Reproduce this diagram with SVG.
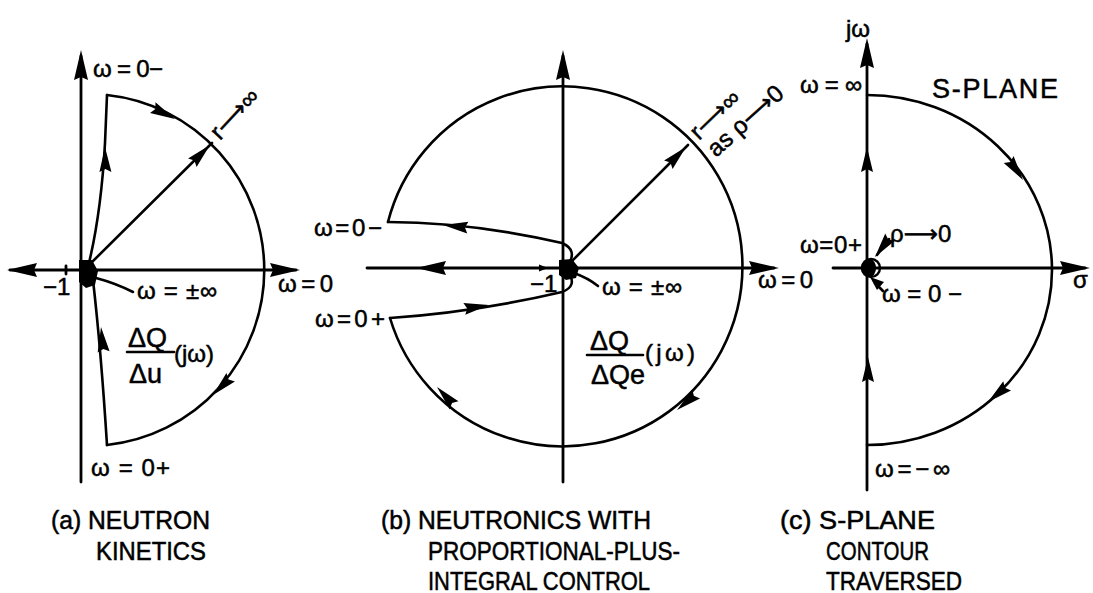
<svg xmlns="http://www.w3.org/2000/svg" xmlns:xlink="http://www.w3.org/1999/xlink" width="1093" height="593" viewBox="0 0 1093 593">
<style>
.ln{fill:none;stroke:#000;stroke-width:2.6;stroke-linecap:round;stroke-linejoin:round}
.ax{fill:none;stroke:#000;stroke-width:2.8;stroke-linecap:round}
.t{font-family:"Liberation Sans",Arial,sans-serif;font-size:24px;fill:#000;stroke:#000;stroke-width:0.5}
.f{font-family:"Liberation Sans",Arial,sans-serif;font-size:27px;fill:#000;stroke:#000;stroke-width:0.5}
.cap{font-family:"Liberation Sans",Arial,sans-serif;font-size:25px;fill:#000;stroke:#000;stroke-width:0.5}
.arr{font-family:"DejaVu Sans",sans-serif}
</style>
<defs>
<path id="ah" d="M0,0 L-25,-6 L-22,0 L-25,6 Z" fill="#000"/>
<path id="ahL" d="M0,0 L-30,-7 L-27,0 L-30,7 Z" fill="#000"/>
</defs>
<rect width="1093" height="593" fill="#fff"/>

<g id="panel-a">
<g id="a-axes">
<line class="ax" x1="81" y1="56" x2="81" y2="482"/>
<line class="ax" x1="10" y1="270" x2="296" y2="270"/>
<use xlink:href="#ahL" transform="translate(81,50) rotate(-90)"/>
<use xlink:href="#ahL" transform="translate(7,270) rotate(180)"/>
<use xlink:href="#ahL" transform="translate(300,270)"/>
<line class="ax" x1="66" y1="266" x2="66" y2="274"/>
</g>
<g id="a-contour">
<path class="ln" d="M107,95 A176,176 0 0,1 107,445"/>
<path class="ln" d="M107,95 L105,143 Q101,215 88,267"/>
<path class="ln" d="M93,280 Q101,350 107,445"/>
<path class="ln" d="M86,268 L212,143"/>
<path d="M79,260 L92,260 L98,271 L95,285 L86,288 L79,282 Z" fill="#000"/>
<path class="ln" d="M96,278 Q115,283 133,292"/>
<use xlink:href="#ah" transform="translate(105,147) rotate(-91)"/>
<use xlink:href="#ah" transform="translate(101,327) rotate(-96)"/>
<use xlink:href="#ah" transform="translate(210,145) rotate(-45)"/>
<use xlink:href="#ah" transform="translate(175,119) rotate(27)"/>
<use xlink:href="#ah" transform="translate(213,395) rotate(135)"/>
</g>
<g id="a-labels">
<text class="t" x="93" y="77" textLength="70" lengthAdjust="spacing">ω = 0−</text>
<text class="t" font-size="26" transform="translate(220,141) rotate(-47)">r<tspan class="arr">⟶</tspan>∞</text>
<text class="t" x="43" y="295" font-size="20">−1</text>
<text class="t" x="137" y="299" textLength="80" lengthAdjust="spacing">ω = ±∞</text>
<text class="t" x="278" y="292" textLength="55" lengthAdjust="spacing">ω=0</text>
<text class="f" x="128" y="347">ΔQ</text>
<line class="ln" x1="127" y1="352" x2="174" y2="352"/>
<text class="f" x="129" y="383">Δu</text>
<text class="t" x="174" y="362">(jω)</text>
<text class="t" x="91" y="476" textLength="79" lengthAdjust="spacing">ω = 0+</text>
</g>
</g>

<g id="panel-b">
<g id="b-axes">
<line class="ax" x1="563" y1="56" x2="563" y2="482"/>
<line class="ax" x1="367" y1="268" x2="774" y2="268"/>
<use xlink:href="#ahL" transform="translate(563,50) rotate(-90)"/>
<use xlink:href="#ahL" transform="translate(779,268)"/>
<use xlink:href="#ahL" transform="translate(416,268) rotate(180)"/>
<path d="M548,268 L539,264.5 L539,271.5 Z" fill="#000"/>
</g>
<g id="b-contour">
<path class="ln" d="M388,222 A180,180 0 1,1 390,318"/>
<path class="ln" d="M388,222 Q470,222 562,243 Q578,250 568,265"/>
<path class="ln" d="M568,272 Q578,286 562,292 Q476,312 390,318"/>
<path class="ln" d="M567,266 L688,145"/>
<path d="M559,260 L572,259 L579,268 L576,278 L566,280 L559,275 Z" fill="#000"/>
<path class="ln" d="M574,273 Q588,278 598,286"/>
<use xlink:href="#ah" transform="translate(443,225) rotate(186)"/>
<use xlink:href="#ah" transform="translate(489,305) rotate(-9)"/>
<use xlink:href="#ah" transform="translate(686,147) rotate(-45)"/>
<use xlink:href="#ah" transform="translate(677,410) rotate(140)"/>
<use xlink:href="#ah" transform="translate(437,387) rotate(-133)"/>
</g>
<g id="b-labels">
<text class="t" x="314" y="236" textLength="68" lengthAdjust="spacing">ω=0−</text>
<text class="t" x="315" y="327" textLength="70" lengthAdjust="spacing">ω=0+</text>
<text class="t" x="530" y="292" font-size="20">−1</text>
<text class="t" x="602" y="295" textLength="80" lengthAdjust="spacing">ω = ±∞</text>
<text class="t" x="758" y="288" textLength="55" lengthAdjust="spacing">ω=0</text>
<text class="t" font-size="25" transform="translate(699,141) rotate(-44)">r<tspan class="arr">⟶</tspan>∞</text>
<text class="t" font-size="25" transform="translate(716,158) rotate(-42)">as ρ<tspan class="arr">⟶</tspan>0</text>
<text class="f" x="590" y="350">ΔQ</text>
<line class="ln" x1="587" y1="355" x2="643" y2="355"/>
<text class="f" x="591" y="384">ΔQe</text>
<text class="t" x="645" y="361" textLength="50" lengthAdjust="spacing">(jω)</text>
</g>
</g>

<g id="panel-c">
<g id="c-axes">
<line class="ax" x1="867" y1="44" x2="867" y2="490"/>
<line class="ax" x1="833" y1="268" x2="1085" y2="268"/>
<use xlink:href="#ahL" transform="translate(867,38) rotate(-90)"/>
<use xlink:href="#ahL" transform="translate(1090,268)"/>
</g>
<g id="c-contour">
<path class="ln" d="M867,95 A185,175 0 0,1 867,445"/>
<circle cx="871" cy="268" r="9" fill="none" stroke="#000" stroke-width="2.4"/>
<path d="M870,259 A9,9 0 0,0 870,277 A6,9 0 0,0 870,259 Z" fill="#000"/>
<line class="ln" x1="889" y1="239" x2="877" y2="255"/>
<use xlink:href="#ah" transform="translate(875,257) rotate(127)"/>
<line class="ln" x1="883" y1="291" x2="875" y2="283"/>
<path d="M870,277 L884,282 L877,290 Z" fill="#000"/>
<use xlink:href="#ah" transform="translate(867,147) rotate(-90)"/>
<use xlink:href="#ah" transform="translate(868,357) rotate(-90)"/>
<use xlink:href="#ah" transform="translate(1023,180) rotate(55)"/>
<use xlink:href="#ah" transform="translate(988,402) rotate(140)"/>
</g>
<g id="c-labels">
<text class="t" x="846" y="37">jω</text>
<text class="t" x="800" y="93" textLength="62" lengthAdjust="spacing">ω=∞</text>
<text class="f" x="932" y="98" textLength="126" lengthAdjust="spacing">S-PLANE</text>
<text class="t" x="800" y="253" textLength="62" lengthAdjust="spacing">ω=0+</text>
<text class="t" x="890" y="242" font-size="25">ρ<tspan class="arr">⟶</tspan>0</text>
<text class="t" x="882" y="302" textLength="80" lengthAdjust="spacing">ω=0−</text>
<text class="t" x="1073" y="288">σ</text>
<text class="t" x="875" y="477" textLength="75" lengthAdjust="spacing">ω=−∞</text>
</g>
</g>

<g id="captions">
<text class="cap" x="51" y="529" textLength="159" lengthAdjust="spacingAndGlyphs">(a) NEUTRON</text>
<text class="cap" x="96" y="560" textLength="110" lengthAdjust="spacingAndGlyphs">KINETICS</text>
<text class="cap" x="381" y="529" textLength="270" lengthAdjust="spacingAndGlyphs">(b) NEUTRONICS WITH</text>
<text class="cap" x="428" y="560" textLength="252" lengthAdjust="spacingAndGlyphs">PROPORTIONAL-PLUS-</text>
<text class="cap" x="428" y="590" textLength="222" lengthAdjust="spacingAndGlyphs">INTEGRAL CONTROL</text>
<text class="cap" x="780" y="529" textLength="155" lengthAdjust="spacingAndGlyphs">(c) S-PLANE</text>
<text class="cap" x="826" y="560" textLength="103" lengthAdjust="spacingAndGlyphs">CONTOUR</text>
<text class="cap" x="826" y="590" textLength="136" lengthAdjust="spacingAndGlyphs">TRAVERSED</text>
</g>
</svg>
